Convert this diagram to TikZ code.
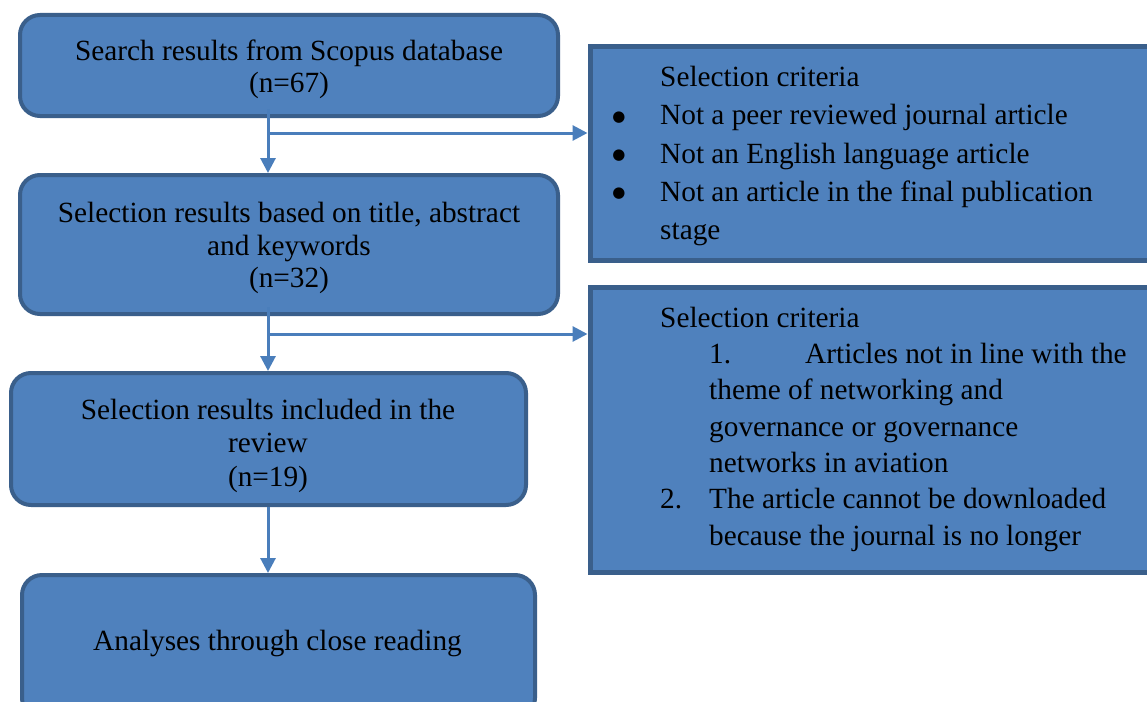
\documentclass[tikz,border=0pt]{standalone}
\usepackage{fontspec}
\setmainfont{Liberation Serif}
\newfontfamily\symfont{DejaVu Sans}
\usetikzlibrary{arrows.meta}
\definecolor{boxfill}{HTML}{4F81BD}
\definecolor{boxline}{HTML}{3A5F8B}
\definecolor{arrowc}{HTML}{4A7EBB}
\begin{document}
\begin{tikzpicture}[x=1pt,y=-1pt,
  flowbox/.style={draw=boxline, fill=boxfill, line width=4pt, rounded corners=20pt, inner sep=0pt},
  critbox/.style={draw=boxline, fill=boxfill, line width=5pt, inner sep=0pt},
  txt/.style={inner sep=0pt, font=\fontsize{29.3}{33.5}\selectfont, text=black},
  dot/.style={inner sep=0pt, font=\symfont\fontsize{15}{15}\selectfont, text=black, anchor=base},
  flow/.style={draw=arrowc, line width=3pt, -{Triangle[length=15pt,width=15pt]}}
]
\clip (0,0) rectangle (1147,701);
\fill[white] (0,0) rectangle (1147,701);

% left flow boxes
\node[flowbox, minimum width=538pt, minimum height=101pt] (b1) at (289,65.5) {};
\node[flowbox, minimum width=538pt, minimum height=139pt] (b2) at (289,244.5) {};
\node[flowbox, minimum width=515pt, minimum height=132pt] (b3) at (268.5,439) {};
\node[flowbox, minimum width=513pt, minimum height=143pt] (b4) at (278.5,646.5) {};

% right criteria boxes
\node[critbox, minimum width=580pt, minimum height=214pt] (r1) at (880,153.5) {};
\node[critbox, minimum width=580pt, minimum height=285pt] (r2) at (880,430) {};

% connectors
\coordinate (ax) at (268,0);
\coordinate (j1) at (268,133);
\coordinate (j2) at (268,334);
\draw[flow] ([yshift=9pt]b1.south -| ax) -- (b2.north -| ax);
\draw[flow] (j1) -- (j1 -| r1.west);
\draw[flow] ([yshift=9pt]b2.south -| ax) -- (b3.north -| ax);
\draw[flow] (j2) -- (j2 -| r2.west);
\draw[flow] (b3.south -| ax) -- (b4.north -| ax);

% texts of left boxes
\node[txt, anchor=base] (t1a) at (289,60) {Search results from Scopus database};
\node[txt, anchor=base] (t1b) at (289,92) {(n=67)};
\node[txt, anchor=base] (t2a) at (289,222) {Selection results based on title, abstract};
\node[txt, anchor=base] (t2b) at (289,255) {and keywords};
\node[txt, anchor=base] (t2c) at (289,287) {(n=32)};
\node[txt, anchor=base] (t3a) at (268,419) {Selection results included in the};
\node[txt, anchor=base] (t3b) at (268,452) {review};
\node[txt, anchor=base] (t3c) at (268,486) {(n=19)};
\node[txt, anchor=base] (t4a) at (277.5,650) {Analyses through close reading};

% texts of first criteria box
\node[txt, anchor=base west] (c1h) at (660,86) {Selection criteria};
\node[dot] (c1d1) at (619,121.3) {●};
\node[txt, anchor=base west] (c1a) at (660,124.5) {Not a peer reviewed journal article};
\node[dot] (c1d2) at (619,159.8) {●};
\node[txt, anchor=base west] (c1b) at (660,163) {Not an English language article};
\node[dot] (c1d3) at (619,197.8) {●};
\node[txt, anchor=base west] (c1c) at (660,201) {Not an article in the final publication};
\node[txt, anchor=base west] (c1d) at (660,239) {stage};

% texts of second criteria box
\node[txt, anchor=base west] (c2h) at (660,327) {Selection criteria};
\node[txt, anchor=base west] (c2n1) at (709,363.3) {1.};
\node[txt, anchor=base west] (c2a) at (805,363.3) {Articles not in line with the};
\node[txt, anchor=base west] (c2b) at (709,399.6) {theme of networking and};
\node[txt, anchor=base west] (c2c) at (709,436) {governance or governance};
\node[txt, anchor=base west] (c2d) at (709,472.3) {networks in aviation};
\node[txt, anchor=base west] (c2n2) at (660,508.6) {2.};
\node[txt, anchor=base west] (c2e) at (709,508.6) {The article cannot be downloaded};
\node[txt, anchor=base west] (c2f) at (709,545) {because the journal is no longer};
\end{tikzpicture}
\end{document}
